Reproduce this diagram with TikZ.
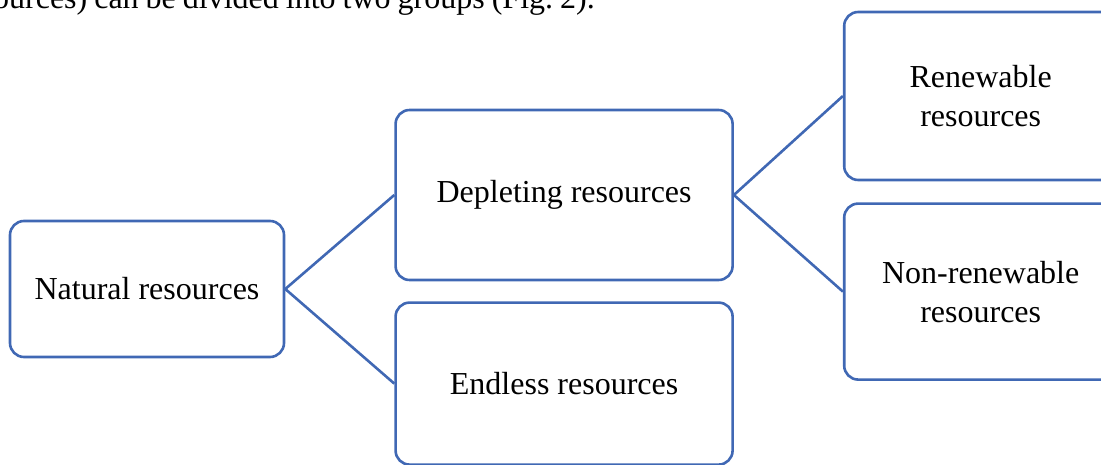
\documentclass[tikz,border=0pt]{standalone}
\usepackage{fontspec}
\setmainfont{Liberation Serif}
\usepackage{tikz}
\usetikzlibrary{positioning}
\definecolor{boxblue}{HTML}{4068B4}
\tikzstyle{block} = [rectangle, rounded corners=14pt, line width=2.6pt, draw=boxblue, align=center, inner sep=0pt, font=\fontsize{32}{39}\selectfont]
\tikzstyle{link} = [line width=2.6pt, draw=boxblue]

\begin{document}
\begin{tikzpicture}[x=1pt, y=1pt, node distance = 109pt]
	\useasboundingbox (0,0) rectangle (1101,464);
	\clip (0,0) rectangle (1101,464);
	\node (Text) [anchor=base east, font=\fontsize{32}{39}\selectfont, inner sep=0pt] at (595,455) {\spaceskip=7pt resources) can be divided into two groups (Fig.~2).};
	\node (Natural) [block, minimum width=274pt, minimum height=136pt] at (147,175) {Natural resources};
	\node (Depleting) [block, minimum width=337pt, minimum height=170pt, right = of Natural, yshift=94pt] {Depleting resources};
	\node (Endless) [block, minimum width=337pt, minimum height=162pt, below = 20pt of Depleting] {Endless resources};
	\node (Renewable) [block, minimum width=273pt, minimum height=168pt, right = of Depleting, yshift=99pt] {Renewable\\resources};
	\node (NonRenewable) [block, minimum width=273pt, minimum height=176pt, below = 21pt of Renewable] {Non-renewable\\resources};
	\draw [link] (Depleting.west) -- (Natural.east) -- (Endless.west);
	\draw [link] (Renewable.west) -- (Depleting.east) -- (NonRenewable.west);
\end{tikzpicture}
\end{document}
